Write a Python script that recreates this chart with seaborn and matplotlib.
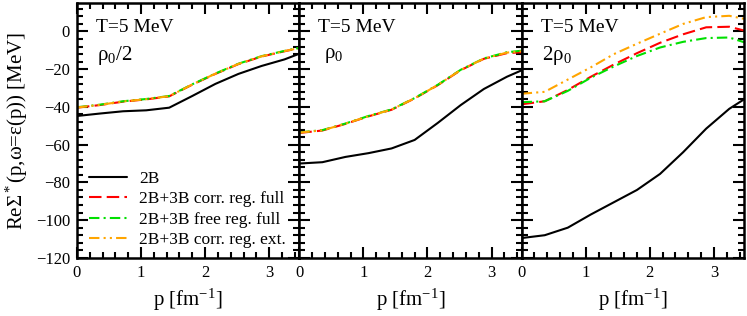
import numpy as np
import pandas as pd
import matplotlib
matplotlib.use("Agg")
import matplotlib.pyplot as plt
import seaborn as sns
from matplotlib.ticker import MultipleLocator

# momentum grid [fm^-1]
p = [0.0, 0.36, 0.72, 1.08, 1.44, 1.8, 2.16, 2.52, 2.88, 3.24, 3.47]

# rho0/2
half_2b = [-44.8, -43.5, -42.3, -41.8, -40.4, -34.2, -27.8, -22.5, -18.3, -14.8, -11.8]
half_corr = [-40.4, -39.0, -37.2, -36.0, -34.4, -28.2, -22.5, -17.3, -13.3, -10.5, -8.8]
half_free = [-40.2, -38.8, -37.0, -35.8, -34.2, -28.0, -22.3, -17.1, -13.1, -10.3, -8.7]
half_ext = [-40.3, -38.9, -37.1, -35.9, -34.3, -28.1, -22.4, -17.2, -13.2, -10.4, -8.8]

# rho0
one_2b = [-70.0, -69.3, -66.5, -64.5, -62.0, -57.5, -48.5, -39.0, -30.5, -24.0, -20.6]
one_corr = [-53.8, -52.5, -49.0, -45.0, -41.5, -35.5, -28.5, -20.5, -14.5, -11.5, -11.0]
one_free = [-53.5, -52.3, -48.8, -44.8, -41.3, -35.3, -28.3, -20.3, -14.3, -11.0, -10.2]
one_ext = [-53.6, -52.4, -48.9, -44.9, -41.4, -35.4, -28.4, -20.4, -14.4, -11.2, -10.5]

# 2 rho0
two_2b = [-109.5, -108.0, -104.0, -97.0, -90.5, -84.0, -75.5, -64.0, -51.5, -41.0, -36.0]
two_corr = [-38.6, -37.0, -31.0, -24.0, -17.5, -11.5, -6.0, -1.5, 2.2, 2.5, 0.5]
two_free = [-37.5, -37.0, -31.5, -24.5, -18.5, -13.0, -8.5, -5.5, -3.5, -3.2, -5.7]
two_ext = [-33.0, -32.0, -25.5, -19.0, -12.0, -6.5, -1.2, 4.0, 7.6, 8.3, 6.7]

panels = [
    ("ρ$_0$/2", [half_2b, half_corr, half_free, half_ext]),
    (" ρ$_0$", [one_2b, one_corr, one_free, one_ext]),
    ("2ρ$_0$", [two_2b, two_corr, two_free, two_ext]),
]
labels = ["2B", "2B+3B corr. reg. full", "2B+3B free reg. full", "2B+3B corr. reg. ext."]
colors = ["black", "red", "#00e000", "orange"]
styles = ["-", (0, (6, 2.5)), (0, (5, 2, 1, 2)), (0, (5, 2, 1, 2, 1, 2))]

sns.set_style("ticks")
plt.rcParams["font.family"] = ["Liberation Serif", "DejaVu Serif"]
plt.rcParams["mathtext.fontset"] = "custom"
plt.rcParams["mathtext.rm"] = "Liberation Serif"
plt.rcParams["mathtext.it"] = "Liberation Serif:italic"
plt.rcParams["axes.edgecolor"] = "black"
plt.rcParams["xtick.color"] = "black"
plt.rcParams["ytick.color"] = "black"
plt.rcParams["text.color"] = "black"
plt.rcParams["axes.labelcolor"] = "black"

fig, axes = plt.subplots(1, 3, figsize=(7.47, 3.16), dpi=100, sharey=True)
fig.subplots_adjust(left=0.103, right=0.996, top=0.99, bottom=0.184, wspace=0)

for ax, (dens, curves) in zip(axes, panels):
    for vals, lab, col, ls in zip(curves, labels, colors, styles):
        sns.lineplot(x=p, y=vals, ax=ax, color=col, linestyle=ls, lw=1.5, label=lab)
    ax.set_xlim(0, 3.47)
    ax.set_ylim(-120, 15)
    ax.xaxis.set_major_locator(MultipleLocator(1))
    ax.xaxis.set_minor_locator(MultipleLocator(0.2))
    ax.yaxis.set_major_locator(MultipleLocator(20))
    ax.yaxis.set_minor_locator(MultipleLocator(4))
    ax.tick_params(which="both", direction="in", top=True, right=True, width=1.5)
    ax.tick_params(which="major", length=8, labelsize=12, pad=5)
    ax.tick_params(which="minor", length=4)
    for s in ax.spines.values():
        s.set_linewidth(1.8)
    ax.set_xlabel("p [fm$^{-1}$]", fontsize=15)
    ax.text(0.085, 0.905, "T=5 MeV", transform=ax.transAxes, fontsize=14, va="center")
    ax.text(0.09, 0.795, dens, transform=ax.transAxes, fontsize=15, va="center")
    if ax is axes[0]:
        ax.legend(loc="lower left", bbox_to_anchor=(0.0, -0.01), frameon=False, fontsize=12.5,
                  handlelength=2.2, labelspacing=0.25, handletextpad=0.7, borderaxespad=0.3)
    else:
        ax.get_legend().remove()

axes[0].set_ylabel("ReΣ$^*$(p,ω=ε(p)) [MeV]", fontsize=15)

fig.savefig("out.png", dpi=100)
